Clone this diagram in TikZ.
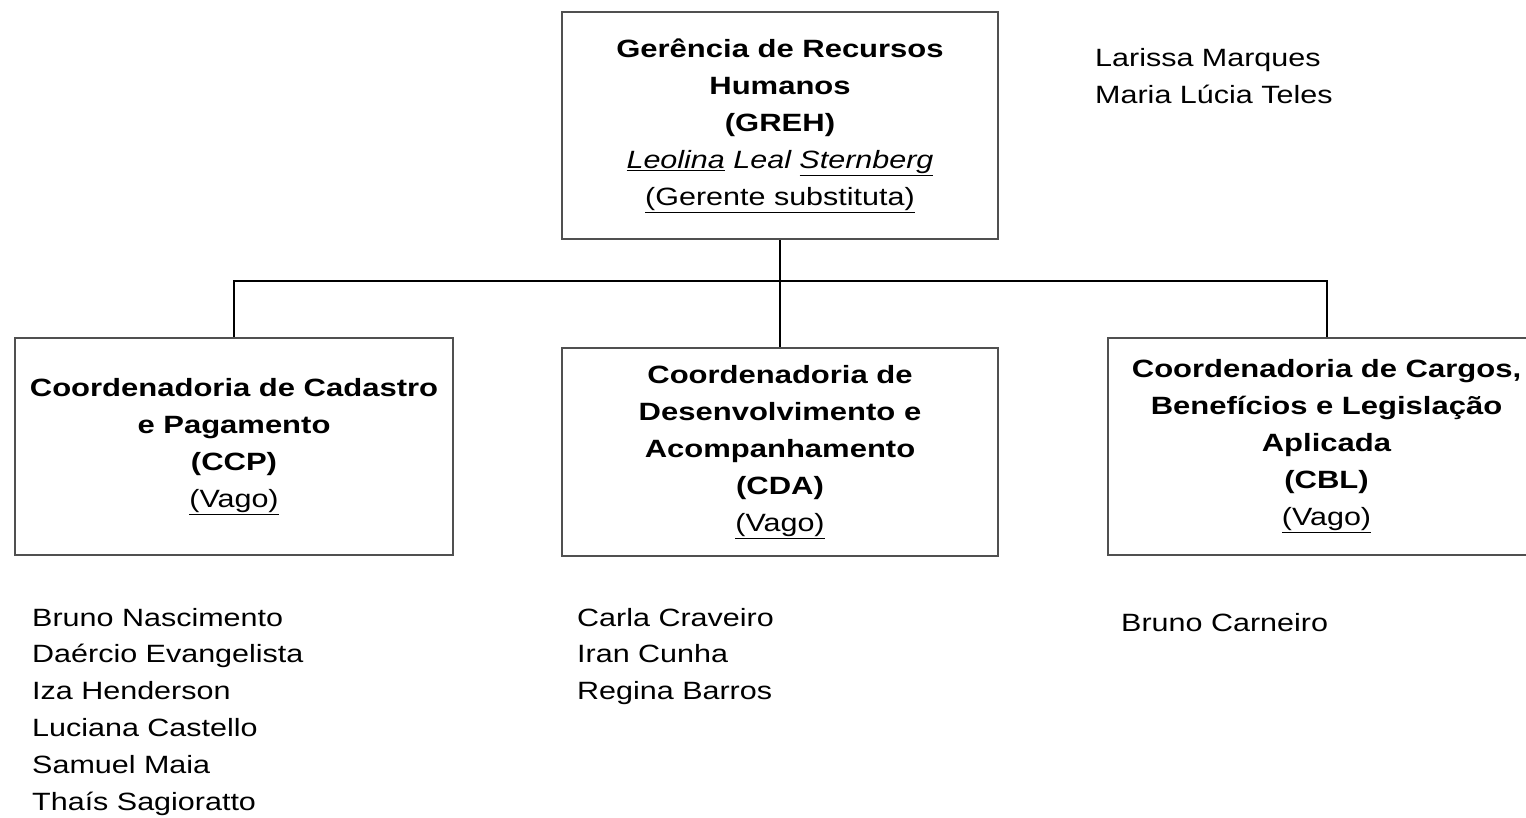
\documentclass[tikz,border=0pt]{standalone}
\usepackage{fontspec}
\setmainfont{Liberation Sans}[FakeStretch=1.22,BoldFeatures={FakeStretch=1.24}]
\definecolor{boxgray}{RGB}{80,80,80}
\begin{document}
\begin{tikzpicture}[x=1pt,y=-1pt,
  orgbox/.style={draw=boxgray, line width=2.4pt, align=center, inner sep=0pt,
    font=\fontsize{25}{37}\selectfont},
  link/.style={draw=black, line width=2pt},
  person/.style={anchor=base west, inner sep=0pt, font=\fontsize{25}{37}\selectfont}]
\useasboundingbox (0,0) rectangle (1526,818);
\clip (0,0) rectangle (1526,818);
\node[orgbox, minimum width=436pt, minimum height=227pt] (greh) at (780,125.5)
  {\textbf{Gerência de Recursos}\\ \textbf{Humanos}\\ \textbf{(GREH)}\\
   \textit{\underline{Leolina} Leal \underline{Sternberg}}\\ \underline{(Gerente substituta)}};
\node[orgbox, minimum width=438pt, minimum height=217pt] (ccp) at (234,446.5)
  {\textbf{Coordenadoria de Cadastro}\\ \textbf{e Pagamento}\\ \textbf{(CCP)}\\ \underline{(Vago)}};
\node[orgbox, minimum width=436pt, minimum height=208pt] (cda) at (780,452)
  {\textbf{Coordenadoria de}\\ \textbf{Desenvolvimento e}\\ \textbf{Acompanhamento}\\ \textbf{(CDA)}\\ \underline{(Vago)}};
\node[orgbox, minimum width=437pt, minimum height=217pt] (cbl) at (1326.5,446.5)
  {\textbf{Coordenadoria de Cargos,}\\ \textbf{Benefícios e Legislação}\\ \textbf{Aplicada}\\ \textbf{(CBL)}\\ \underline{(Vago)}};
\coordinate (bus) at (780,281);
\draw[link] (greh.south) -- (cda.north);
\draw[link] (ccp.north) |- (bus) -| (cbl.north);
% people
\node[person] (p1) at (1095,67) {Larissa Marques};
\node[person] (p2) at (1095,104) {Maria Lúcia Teles};
\foreach \n [count=\i] in {Bruno Nascimento,Daércio Evangelista,Iza Henderson,Luciana Castello,Samuel Maia,Thaís Sagioratto}
  \node[person] (ccp\i) at (32,626+36.8*\i-36.8) {\n};
\foreach \n [count=\i] in {Carla Craveiro,Iran Cunha,Regina Barros}
  \node[person] (cda\i) at (577,626+36.8*\i-36.8) {\n};
\node[person] (cbl1) at (1121,631) {Bruno Carneiro};
\end{tikzpicture}
\end{document}
